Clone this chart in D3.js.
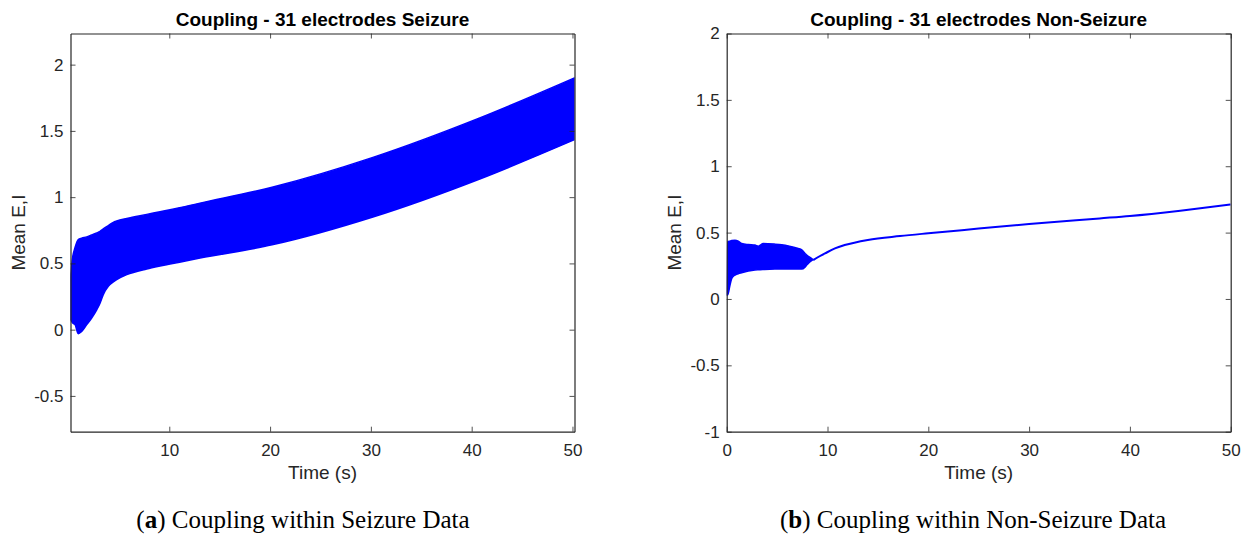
<!DOCTYPE html>
<html>
<head>
<meta charset="utf-8">
<script src="https://cdn.jsdelivr.net/npm/d3@7"></script>
<style>
  body { margin: 0; background: #fff; }
  svg { display: block; }
</style>
</head>
<body>
<div id="graphContainer"></div>
<script>
// ---- data ----
// (a) seizure: envelope of the dense oscillation band
const seizureTime  = [0.2, 0.42, 0.65, 0.97, 1.31, 1.81, 2.3, 2.8, 3.13, 3.45, 3.95, 4.45, 4.78, 5.78, 7.76, 9.08, 10.07, 13.05, 20.2, 30.2, 40.8, 50.2];
const seizureUpper = [0.40, 0.55, 0.62, 0.68, 0.69, 0.70, 0.715, 0.73, 0.742, 0.76, 0.785, 0.81, 0.82, 0.84, 0.87, 0.89, 0.905, 0.955, 1.075, 1.30, 1.598, 1.90];
const seizureLower = [0.075, 0.05, 0.038, -0.03, -0.013, 0.038, 0.088, 0.15, 0.2, 0.264, 0.327, 0.36, 0.377, 0.415, 0.458, 0.48, 0.495, 0.54, 0.64, 0.85, 1.137, 1.434];

// (b) non-seizure: oscillating part, then a single trace
const nonSeizureBandTime  = [0, 0.1, 0.33, 0.5, 0.82, 1.15, 1.49, 2.15, 2.8, 3.14, 3.63, 4.79, 5.46, 6.11, 7.1, 7.44, 7.77, 7.94, 8.43, 8.6];
const nonSeizureBandUpper = [0.03, 0.43, 0.436, 0.44, 0.443, 0.436, 0.418, 0.41, 0.406, 0.398, 0.418, 0.413, 0.408, 0.40, 0.38, 0.37, 0.343, 0.33, 0.305, 0.295];
const nonSeizureBandLower = [0.03, 0.03, 0.105, 0.155, 0.18, 0.19, 0.197, 0.21, 0.218, 0.22, 0.222, 0.225, 0.225, 0.225, 0.225, 0.225, 0.24, 0.255, 0.29, 0.295];
const nonSeizureLineTime  = [8.6, 9.75, 10.74, 11.7, 14, 17.2, 20, 25, 30, 37, 40, 45, 50];
const nonSeizureLineValue = [0.295, 0.343, 0.381, 0.406, 0.445, 0.474, 0.495, 0.53, 0.565, 0.607, 0.625, 0.665, 0.712];

const leftXTicks  = [10, 20, 30, 40, 50];
const leftYTicks  = [-0.5, 0, 0.5, 1, 1.5, 2];
const rightXTicks = [0, 10, 20, 30, 40, 50];
const rightYTicks = [-1, -0.5, 0, 0.5, 1, 1.5, 2];

const W = 1244, H = 536;
const axisColor = '#262626';
const blue = '#0000ff';
const sans = '"Liberation Sans", Arial, Helvetica, sans-serif';
const serif = '"Liberation Serif", "Times New Roman", serif';

const svg = d3.select('#graphContainer').append('svg')
  .attr('width', W).attr('height', H);

function drawPanel(opts) {
  const x = d3.scaleLinear().domain(opts.xDomain).range([opts.left, opts.left + 504]);
  const y = d3.scaleLinear().domain(opts.yDomain).range([431.7, 33.5]);
  const g = svg.append('g');

  const clipId = 'clip-' + opts.name;
  g.append('clipPath').attr('id', clipId)
    .append('rect')
    .attr('x', x.range()[0]).attr('y', 33.5)
    .attr('width', 504).attr('height', 398.2);

  const plot = g.append('g').attr('clip-path', 'url(#' + clipId + ')');
  opts.draw(plot, x, y);

  // axes, MATLAB style: box with ticks pointing inwards on all four sides
  const tick = 5;
  const fmt = d => String(d);
  const bottom = g.append('g').attr('transform', 'translate(0,431.7)')
    .call(d3.axisBottom(x).tickValues(opts.xTicks).tickSizeInner(-tick).tickSizeOuter(0).tickPadding(12).tickFormat(fmt));
  const top = g.append('g').attr('transform', 'translate(0,33.5)')
    .call(d3.axisTop(x).tickValues(opts.xTicks).tickSizeInner(-tick).tickSizeOuter(0).tickFormat(''));
  const leftAx = g.append('g').attr('transform', 'translate(' + x.range()[0] + ',0)')
    .call(d3.axisLeft(y).tickValues(opts.yTicks).tickSizeInner(-tick).tickSizeOuter(0).tickPadding(7).tickFormat(fmt));
  const rightAx = g.append('g').attr('transform', 'translate(' + x.range()[1] + ',0)')
    .call(d3.axisRight(y).tickValues(opts.yTicks).tickSizeInner(-tick).tickSizeOuter(0).tickFormat(''));

  [bottom, top, leftAx, rightAx].forEach(a => {
    a.select('.domain').attr('stroke', axisColor).attr('stroke-width', 1.2);
    a.selectAll('.tick line').attr('stroke', axisColor).attr('stroke-width', 0.8);
    a.selectAll('.tick text').attr('fill', axisColor).attr('font-size', 17).attr('font-family', sans);
  });
  bottom.selectAll('.tick text').attr('dy', '0.71em');

  const cx = (x.range()[0] + x.range()[1]) / 2;
  g.append('text').attr('x', cx).attr('y', 26)
    .attr('text-anchor', 'middle').attr('font-family', sans)
    .attr('font-weight', 'bold').attr('font-size', 19).attr('fill', '#000')
    .text(opts.title);
  g.append('text').attr('x', cx).attr('y', 479)
    .attr('text-anchor', 'middle').attr('font-family', sans)
    .attr('font-size', 19).attr('fill', axisColor)
    .text('Time (s)');
  g.append('text')
    .attr('transform', 'translate(' + (x.range()[0] - 46) + ',232.6) rotate(-90)')
    .attr('text-anchor', 'middle').attr('font-family', sans)
    .attr('font-size', 19).attr('fill', axisColor)
    .text('Mean E,I');

  const cap = svg.append('text').attr('x', opts.capX).attr('y', 528)
    .attr('text-anchor', 'middle').attr('font-family', serif)
    .attr('font-size', 25).attr('fill', '#000');
  cap.append('tspan').text('(');
  cap.append('tspan').attr('font-weight', 'bold').text(opts.capLetter);
  cap.append('tspan').text(') ' + opts.caption);
}

function band(times, upper, lower) {
  return times.map((t, i) => ({ t: t, hi: upper[i], lo: lower[i] }));
}

drawPanel({
  name: 'a', left: 70.5, xDomain: [0.2, 50.2], yDomain: [-0.77, 2.235],
  xTicks: leftXTicks, yTicks: leftYTicks,
  title: 'Coupling - 31 electrodes Seizure',
  capX: 303, capLetter: 'a', caption: 'Coupling within Seizure Data',
  draw: (plot, x, y) => {
    const area = d3.area()
      .x(d => x(d.t)).y0(d => y(d.lo)).y1(d => y(d.hi))
      .curve(d3.curveMonotoneX);
    plot.append('path')
      .datum(band(seizureTime, seizureUpper, seizureLower))
      .attr('d', area)
      .attr('fill', blue).attr('stroke', blue).attr('stroke-width', 1.5);
  }
});

drawPanel({
  name: 'b', left: 726.7, xDomain: [0, 50], yDomain: [-1, 2],
  xTicks: rightXTicks, yTicks: rightYTicks,
  title: 'Coupling - 31 electrodes Non-Seizure',
  capX: 973, capLetter: 'b', caption: 'Coupling within Non-Seizure Data',
  draw: (plot, x, y) => {
    const area = d3.area()
      .x(d => x(d.t)).y0(d => y(d.lo)).y1(d => y(d.hi))
      .curve(d3.curveMonotoneX);
    plot.append('path')
      .datum(band(nonSeizureBandTime, nonSeizureBandUpper, nonSeizureBandLower))
      .attr('d', area)
      .attr('fill', blue).attr('stroke', blue).attr('stroke-width', 1.5);

    const line = d3.line()
      .x((d, i) => x(nonSeizureLineTime[i])).y(d => y(d))
      .curve(d3.curveMonotoneX);
    plot.append('path')
      .datum(nonSeizureLineValue)
      .attr('d', line)
      .attr('fill', 'none').attr('stroke', blue).attr('stroke-width', 2);
  }
});
</script>
</body>
</html>
